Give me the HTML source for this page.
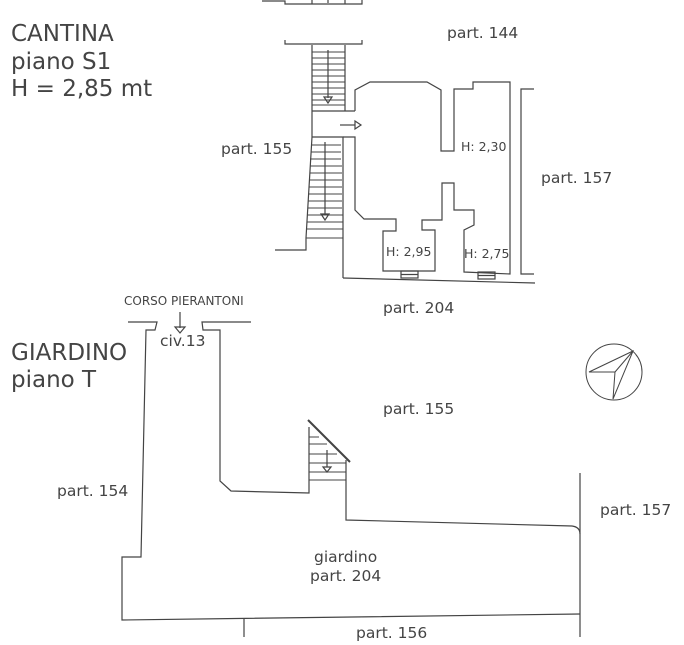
<!DOCTYPE html>
<html><head><meta charset="utf-8"><style>
html,body{margin:0;padding:0;background:#fff;width:684px;height:645px;overflow:hidden}
svg{display:block}
text{font-family:"DejaVu Sans","Liberation Sans",sans-serif;fill:#444}
</style></head><body>
<svg width="684" height="645" viewBox="0 0 684 645" xmlns="http://www.w3.org/2000/svg">
<g fill="none" stroke="#444" stroke-width="1.2">
<polyline points="262,1 285,1 285,4 362,4 362,0"/>
<line x1="312" y1="0" x2="312" y2="4"/><line x1="345" y1="0" x2="345" y2="4"/>
<line x1="328" y1="0" x2="328" y2="3"/>
<polyline points="285,40 285,44 362,44 362,40"/>
<line x1="312" y1="45" x2="312" y2="137"/>
<line x1="345" y1="45" x2="345" y2="111"/>
<g stroke-width="1">
<line x1="312" y1="52" x2="345" y2="52"/><line x1="312" y1="58" x2="345" y2="58"/>
<line x1="312" y1="64" x2="345" y2="64"/><line x1="312" y1="70" x2="345" y2="70"/>
<line x1="312" y1="76" x2="345" y2="76"/><line x1="312" y1="82" x2="345" y2="82"/>
<line x1="312" y1="88" x2="345" y2="88"/><line x1="312" y1="94" x2="345" y2="94"/>
<line x1="312" y1="100" x2="345" y2="100"/><line x1="312" y1="105" x2="345" y2="105"/>
</g>
<line x1="312" y1="111" x2="355" y2="111"/>
<line x1="328" y1="50" x2="328" y2="98"/>
<polygon points="324,97 332,97 328,103"/>
<line x1="340" y1="125" x2="355" y2="125"/>
<polygon points="355,121 355,129 361,125"/>
<polyline points="312,137 306,238 306,250 275,250"/>
<polyline points="312,137 343,137 343,278"/>
<g stroke-width="1">
<line x1="311" y1="145" x2="341" y2="145"/><line x1="311" y1="152" x2="341" y2="152"/>
<line x1="310" y1="159" x2="341" y2="159"/><line x1="310" y1="166" x2="342" y2="166"/>
<line x1="310" y1="173" x2="342" y2="173"/><line x1="309" y1="180" x2="342" y2="180"/>
<line x1="309" y1="187" x2="342" y2="187"/><line x1="308" y1="194" x2="342" y2="194"/>
<line x1="308" y1="201" x2="342" y2="201"/><line x1="308" y1="208" x2="342" y2="208"/>
<line x1="307" y1="215" x2="343" y2="215"/><line x1="307" y1="222" x2="343" y2="222"/>
<line x1="307" y1="229" x2="343" y2="229"/><line x1="306" y1="238" x2="343" y2="238"/>
</g>
<line x1="325" y1="142" x2="325" y2="214"/>
<polygon points="321,214 329,214 325,220"/>
<polyline points="355,111 355,90 370,82 427,82 441,90 441,151 454,151 454,89 473,89 473,82 510,82 510,274 464,272 464,230 474,225 474,210 454,210 454,183 442,183 442,220 422,220 422,230 435,230 435,271 383,271 383,231 396,231 396,219 364,219 355,210 355,137 343,137"/>
<line x1="343" y1="278" x2="535" y2="283"/>
<rect x="401" y="271" width="17" height="7"/><line x1="401" y1="274.5" x2="418" y2="274.5"/>
<rect x="478" y="272" width="17" height="7"/><line x1="478" y1="275.5" x2="495" y2="275.5"/>
<polyline points="534,89 521,89 521,274 534,274"/>
<polyline points="128,322 157,322 155,330 146,330 141,557 122,557 122,620 580,614"/>
<polyline points="251,322 202,322 203,330 220,330 220,481 231,491 309,493 309,427"/>
<path d="M346,460 L346,520 L572,526 Q580,527 580,534"/>
<line x1="308" y1="420" x2="350" y2="462" stroke-width="2"/>
<g stroke-width="1">
<line x1="309" y1="437" x2="319" y2="437"/><line x1="309" y1="444" x2="327" y2="444"/>
<line x1="309" y1="454" x2="337" y2="454"/><line x1="309" y1="463" x2="346" y2="463"/>
<line x1="309" y1="472" x2="346" y2="472"/><line x1="309" y1="480" x2="346" y2="480"/>
</g>
<line x1="327" y1="450" x2="327" y2="467"/><polygon points="323,467 331,467 327,472"/>
<line x1="580" y1="473" x2="580" y2="637"/>
<line x1="244" y1="619" x2="244" y2="637"/>
<line x1="180" y1="312" x2="180" y2="328"/><polygon points="175,327 185,327 180,333"/>
<circle cx="614" cy="372" r="28" stroke-width="1"/>
<polygon points="633,351 589,372 615,372 613,399" stroke-width="1"/>
<line x1="615" y1="372" x2="633" y2="351" stroke-width="1"/>
</g>
<text x="11" y="41" font-size="23">CANTINA</text>
<text x="11" y="69" font-size="23">piano S1</text>
<text x="11" y="96" font-size="23">H = 2,85 mt</text>
<text x="11" y="360" font-size="23">GIARDINO</text>
<text x="11" y="387" font-size="23">piano T</text>
<g font-size="15.5">
<text x="447" y="38">part. 144</text>
<text x="221" y="154">part. 155</text>
<text x="541" y="183">part. 157</text>
<text x="383" y="313">part. 204</text>
<text x="383" y="414">part. 155</text>
<text x="57" y="496">part. 154</text>
<text x="600" y="515">part. 157</text>
<text x="314" y="562">giardino</text>
<text x="310" y="581">part. 204</text>
<text x="356" y="638">part. 156</text>
<text x="160" y="346">civ.13</text>
</g>
<g font-size="12.5">
<text x="461" y="151">H: 2,30</text>
<text x="386" y="256">H: 2,95</text>
<text x="464" y="258">H: 2,75</text>
</g>
<text x="124" y="305" font-size="12">CORSO PIERANTONI</text>
</svg>
</body></html>
